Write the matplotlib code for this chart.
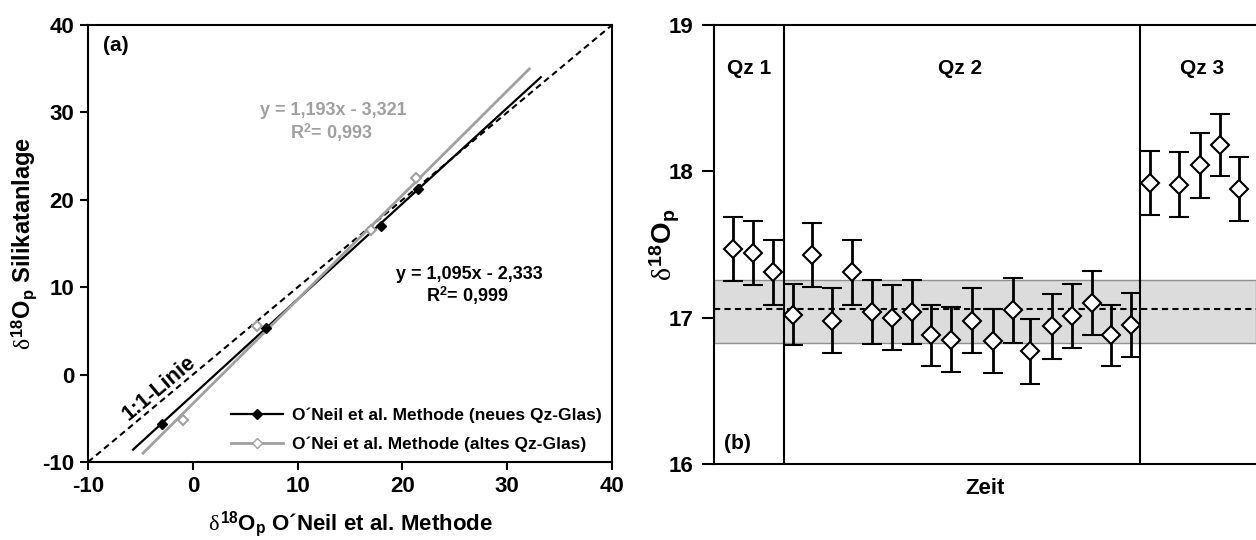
# two panels: method comparison (a) and time series with error bars (b)

import numpy as np
import matplotlib
matplotlib.use('Agg')
import matplotlib.pyplot as plt

plt.rcParams['font.family'] = ['Liberation Sans', 'DejaVu Sans']
plt.rcParams['font.weight'] = 'bold'
plt.rcParams['axes.labelweight'] = 'bold'
plt.rcParams['axes.unicode_minus'] = False
plt.rcParams['mathtext.fontset'] = 'custom'
plt.rcParams['mathtext.rm'] = 'Liberation Serif:weight=normal'
plt.rcParams['mathtext.it'] = 'Liberation Serif:weight=normal'
plt.rcParams['mathtext.bf'] = 'Liberation Sans:weight=bold'

# panel (a) data
new_x = [-2.9, 7.0, 18.0, 21.5]
new_y = [-5.6, 5.3, 17.0, 21.2]
old_x = [-0.9, 6.1, 17.0, 21.3]
old_y = [-5.2, 5.6, 16.6, 22.5]
new_fit = [1.095, -2.333]
old_fit = [1.193, -3.321]
new_fit_range = [-5.7, 33.2]
old_fit_range = [-4.75, 32.1]

# panel (b) data
zeit = [0.95, 1.98, 2.96,
        3.95, 4.93, 5.92, 6.91, 7.93, 8.94, 9.97, 10.9, 11.9, 12.95, 14.0,
        15.02, 15.9, 16.96, 17.98, 18.97, 19.96, 20.95,
        21.9, 23.36, 24.4, 25.4, 26.38]
d18o = [17.47, 17.44, 17.31,
        17.02, 17.43, 16.98, 17.31, 17.04, 17.00, 17.04, 16.88, 16.85, 16.98,
        16.84, 17.05, 16.77, 16.94, 17.01, 17.10, 16.88, 16.95,
        17.92, 17.91, 18.04, 18.18, 17.88]
d18o_err = [0.22, 0.22, 0.22,
            0.21, 0.22, 0.22, 0.22, 0.22, 0.22, 0.22, 0.21, 0.22, 0.22,
            0.22, 0.22, 0.22, 0.22, 0.22, 0.22, 0.21, 0.22,
            0.22, 0.22, 0.22, 0.21, 0.22]
mittel = 17.06
band = [16.83, 17.26]
grenzen = [3.52, 21.38]
gruppen = ['Qz 1', 'Qz 2', 'Qz 3']
gruppen_x = [1.74, 12.35, 24.5]

d18 = '$\\delta^{\\mathbf{18}}\\mathbf{O}_{\\mathbf{p}}$'

fig = plt.figure(figsize=(12.56, 5.4), dpi=100)

# ---------- (a) ----------
ax1 = fig.add_axes([0.0701, 0.1444, 0.4172, 0.8093])
ax1.plot([-10, 40], [-10, 40], color='black', linestyle='--', linewidth=1.5, dashes=(3, 2))

xf = np.array(new_fit_range)
ax1.plot(xf, new_fit[0] * xf + new_fit[1], color='black', linewidth=1.6)
xf = np.array(old_fit_range)
ax1.plot(xf, old_fit[0] * xf + old_fit[1], color='#a0a0a0', linewidth=2.0)

ax1.plot(new_x, new_y, linestyle='none', marker='D', markersize=5,
         color='black')
ax1.plot(old_x, old_y, linestyle='none', marker='D', markersize=5.5,
         markerfacecolor='white', markeredgecolor='#a0a0a0', markeredgewidth=1.5)

# legend handles
h1, = ax1.plot([], [], color='black', linewidth=1.6, marker='D', markersize=5)
h2, = ax1.plot([], [], color='#a0a0a0', linewidth=2.0, marker='D', markersize=5,
               markerfacecolor='white', markeredgecolor='#a0a0a0')
leg = ax1.legend([h1, h2],
                 ['O´Neil et al. Methode (neues Qz-Glas)',
                  'O´Nei et al. Methode (altes Qz-Glas)'],
                 loc='lower right', frameon=False, fontsize=12.5,
                 handlelength=3.0, handletextpad=0.5, labelspacing=0.75,
                 borderaxespad=0.2)

ax1.text(13.4, 30.2, 'y = 1,193x - 3,321', color='#a0a0a0', fontsize=13,
         ha='center', va='center')
ax1.text(13.2, 27.7, 'R$^{\\mathbf{2}}$= 0,993', color='#a0a0a0', fontsize=13,
         ha='center', va='center')
ax1.text(26.4, 11.5, 'y = 1,095x - 2,333', color='black', fontsize=13,
         ha='center', va='center')
ax1.text(26.2, 9.0, 'R$^{\\mathbf{2}}$= 0,999', color='black', fontsize=13,
         ha='center', va='center')
ax1.text(-3.2, -1.5, '1:1-Linie', fontsize=15.5, rotation=40,
         ha='center', va='center')
ax1.text(-8.6, 37.6, '(a)', fontsize=15, ha='left', va='center')

ax1.set_xlim(-10, 40)
ax1.set_ylim(-10, 40)
ax1.set_xticks([-10, 0, 10, 20, 30, 40])
ax1.set_yticks([-10, 0, 10, 20, 30, 40])
ax1.tick_params(direction='out', length=6, width=1.5, labelsize=16, pad=4)
for s in ax1.spines.values():
    s.set_linewidth(1.5)
ax1.set_xlabel(d18 + ' O´Neil et al. Methode', fontsize=16, labelpad=9)
ax1.set_ylabel(d18 + ' Silikatanlage', fontsize=17, labelpad=2)

# ---------- (b) ----------
ax2 = fig.add_axes([0.5685, 0.1407, 0.4315, 0.813])
ax2.axhspan(band[0], band[1], facecolor='#dcdcdc', edgecolor='#909090',
            linewidth=1.0, zorder=0)
ax2.axhline(mittel, color='black', linestyle='--', linewidth=1.5, dashes=(3, 2),
            zorder=1)
for g in grenzen:
    ax2.axvline(g, color='black', linewidth=1.5, zorder=2)

ax2.errorbar(zeit, d18o, yerr=d18o_err, fmt='D', markersize=9,
             markerfacecolor='white', markeredgecolor='black',
             markeredgewidth=1.5, ecolor='black', elinewidth=2.0,
             capsize=7, capthick=2.0, zorder=3)

for name, gx in zip(gruppen, gruppen_x):
    ax2.text(gx, 18.70, name, fontsize=15, ha='center', va='center')
ax2.text(1.19, 16.14, '(b)', fontsize=15, ha='center', va='center')

ax2.set_xlim(0, 27.23)
ax2.set_ylim(16, 19)
ax2.set_yticks([16, 17, 18, 19])
ax2.set_xticks([])
ax2.tick_params(direction='out', length=9, width=1.5, labelsize=16, pad=6)
ax2.spines['right'].set_visible(False)
for s in ax2.spines.values():
    s.set_linewidth(1.5)
ax2.set_xlabel('Zeit', fontsize=16, labelpad=10)
ax2.set_ylabel(d18, fontsize=20, labelpad=-10)

fig.savefig('out.png', dpi=100)
